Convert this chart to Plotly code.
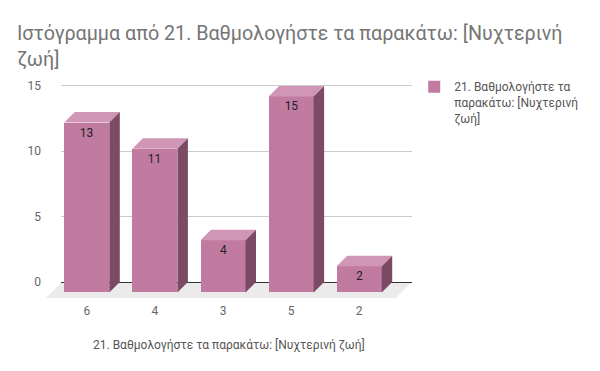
import plotly.graph_objects as go

# ---- data ----
categories = ["6", "4", "3", "5", "2"]
counts = [13, 11, 4, 15, 2]
series_name = "21. Βαθμολογήστε τα<br>παρακάτω: [Νυχτερινή<br>ζωή]"
chart_title = "Ιστόγραμμα από 21. Βαθμολογήστε τα παρακάτω: [Νυχτερινή<br>ζωή]"
x_title = "21. Βαθμολογήστε τα παρακάτω: [Νυχτερινή ζωή]"
y_ticks = [0, 5, 10, 15]

# ---- style / geometry ----
FRONT = "#c27ba0"
TOP = "#d196b5"
SIDE = "#7d4a66"
FLOOR = "#ebebeb"
FONT = "Roboto"

X_RANGE = [-0.379, 4.775]
Y_RANGE = [-1.377, 15.30]
BAR_W = 0.661
DX = 0.154   # depth offset in x units
DY = 0.80    # depth offset in y units

xs = list(range(len(categories)))

fig = go.Figure()

# front faces
fig.add_trace(go.Bar(
    x=xs, y=counts, base=[-DY] * len(counts), width=BAR_W,
    marker=dict(color=FRONT, line=dict(width=0)),
    text=[str(v) for v in counts], textposition="inside",
    insidetextanchor="end", textangle=0,
    textfont=dict(color="#222222", size=12, family=FONT),
    name=series_name, showlegend=True, hoverinfo="skip",
))

# top faces
tx, ty = [], []
for x, v in zip(xs, counts):
    l, r = x - BAR_W / 2, x + BAR_W / 2
    tx += [l, r, r + DX, l + DX, l, None]
    ty += [v - DY, v - DY, v, v, v - DY, None]
fig.add_trace(go.Scatter(x=tx, y=ty, fill="toself", fillcolor=TOP, mode="lines",
                         line=dict(width=0, color=TOP), showlegend=False, hoverinfo="skip"))

# side faces
sx, sy = [], []
for x, v in zip(xs, counts):
    r = x + BAR_W / 2
    sx += [r, r + DX, r + DX, r, r, None]
    sy += [-DY, 0, v, v - DY, -DY, None]
fig.add_trace(go.Scatter(x=sx, y=sy, fill="toself", fillcolor=SIDE, mode="lines",
                         line=dict(width=0, color=SIDE), showlegend=False, hoverinfo="skip"))

# floor (decorative, paper coords)
fig.add_shape(type="path", xref="paper", yref="paper", layer="below",
              path="M 0.003 0.0826 L 1.0 0.0826 L 0.954 0.0092 L -0.043 0.0092 Z",
              fillcolor=FLOOR, line=dict(width=0))

fig.update_layout(
    width=600, height=371,
    margin=dict(l=61, r=188, t=82, b=71),
    paper_bgcolor="white", plot_bgcolor="rgba(0,0,0,0)",
    font=dict(family=FONT, color="#757575", size=12),
    title=dict(text=chart_title, x=17 / 600, xanchor="left", xref="container",
               y=1 - 40 / 371, yanchor="top", yref="container",
               font=dict(size=19.7, color="#757575", family=FONT)),
    xaxis=dict(range=X_RANGE, tickvals=xs, ticktext=categories, showgrid=False,
               zeroline=False, showline=False, ticks="", fixedrange=True,
               ticklabelstandoff=2,
               tickfont=dict(size=12, color="#666666")),
    yaxis=dict(range=Y_RANGE, tickvals=y_ticks, showgrid=True, gridcolor="#cccccc",
               gridwidth=1, zeroline=True, zerolinecolor="#333333", zerolinewidth=1,
               showline=False, ticks="", ticklabelstandoff=19, fixedrange=True,
               tickfont=dict(size=12, color="#666666")),
    legend=dict(x=1.0064, xanchor="left", y=1.044, yanchor="top", valign="top",
                font=dict(size=12, color="#555555", family=FONT),
                bgcolor="rgba(0,0,0,0)"),
    annotations=[dict(text=x_title, xref="paper", yref="paper", x=0.479, y=-0.206,
                      xanchor="center", yanchor="middle", showarrow=False,
                      font=dict(size=12, color="#555555", family=FONT))],
    bargap=0,
)

fig.write_html("out.html", config={"displayModeBar": False},
               post_script="document.body.style.margin='0px';")
